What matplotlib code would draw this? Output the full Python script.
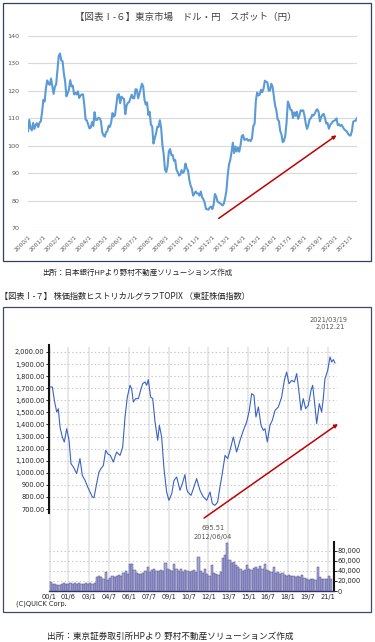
import matplotlib
matplotlib.use('Agg')
import matplotlib.pyplot as plt
from matplotlib.patches import Rectangle

plt.rcParams['font.family'] = ['Noto Sans CJK JP', 'DejaVu Sans']

# ---------------- data: USD/JPY monthly (2000/1 - 2021/6) ----------------
usdjpy = [
    105.3, 109.4, 106.3, 105.6, 108.3, 106.1, 107.6, 108.2, 106.8, 108.4, 108.9, 112.2,  # 2000
    116.7, 116.1, 121.0, 123.8, 122.6, 122.2, 124.5, 121.6, 118.9, 121.5, 122.4, 127.6,  # 2001
    132.7, 133.6, 131.1, 130.8, 126.4, 123.4, 118.0, 119.1, 120.5, 123.9, 121.6, 121.9,  # 2002
    118.7, 119.3, 118.7, 119.8, 117.4, 118.3, 118.7, 118.7, 114.8, 109.5, 109.2, 107.7,  # 2003
    106.3, 106.6, 108.6, 107.2, 112.2, 109.4, 109.4, 110.2, 110.0, 108.9, 104.9, 103.8,  # 2004
    103.3, 104.9, 105.3, 107.3, 106.9, 108.6, 111.9, 110.6, 111.2, 114.9, 118.5, 118.8,  # 2005
    115.5, 117.9, 117.3, 117.1, 111.5, 114.6, 115.6, 115.9, 117.3, 118.6, 117.3, 117.3,  # 2006
    120.6, 120.5, 117.3, 118.9, 120.8, 122.6, 121.6, 116.7, 115.0, 115.8, 111.2, 112.4,  # 2007
    107.6, 107.1, 100.8, 102.7, 104.4, 106.9, 106.9, 109.3, 106.5, 100.3, 96.9, 91.3,    # 2008
    90.4, 92.5, 97.9, 98.8, 96.6, 96.6, 94.5, 94.8, 91.2, 90.3, 89.1, 89.5,              # 2009
    91.1, 90.1, 90.7, 93.5, 91.8, 90.9, 87.6, 85.5, 84.3, 81.8, 82.6, 83.3,              # 2010
    82.6, 82.6, 81.8, 83.3, 81.2, 80.5, 79.3, 77.0, 76.8, 76.7, 77.5, 77.8,              # 2011
    76.9, 78.5, 82.4, 81.5, 79.7, 79.3, 79.0, 78.7, 78.2, 78.9, 80.9, 83.6,              # 2012
    89.2, 93.2, 94.8, 97.7, 101.1, 97.3, 99.7, 97.9, 99.3, 97.8, 100.1, 103.5,           # 2013
    103.9, 102.1, 102.3, 102.5, 101.8, 102.1, 101.7, 102.9, 107.2, 108.0, 116.4, 119.4,  # 2014
    118.3, 118.6, 120.4, 119.5, 120.8, 123.7, 123.3, 123.1, 120.1, 120.1, 122.6, 121.6,  # 2015
    118.2, 114.7, 112.9, 109.6, 109.0, 105.4, 104.1, 101.3, 101.8, 103.8, 108.6, 116.1,  # 2016
    114.9, 113.1, 113.0, 110.1, 112.2, 110.9, 112.4, 109.8, 111.0, 112.9, 112.8, 112.9,  # 2017
    110.9, 108.0, 106.1, 107.6, 109.7, 110.0, 111.3, 111.0, 111.7, 112.8, 113.3, 112.3,  # 2018
    108.9, 110.4, 111.3, 111.6, 110.0, 108.1, 108.3, 106.2, 107.5, 108.1, 108.8, 109.1,  # 2019
    109.3, 110.0, 107.5, 107.8, 107.2, 107.6, 106.8, 106.0, 105.6, 105.2, 104.4, 103.8,  # 2020
    103.7, 105.3, 108.7, 109.1, 109.1, 110.1,                                            # 2021
]
yen_xlabels = [f"{y}/1" for y in range(2000, 2022)]
yen_yticks = [70, 80, 90, 100, 110, 120, 130, 140]
yen_trend_start = (149, 73.5)   # (months since 2000/1, yen)
yen_trend_end = (241, 103.8)

# ---------------- data: TOPIX (months since 2000/1, index value) ----------------
topix_month = [0.45, 2.6, 4.4, 6.5, 8.0, 9.5, 11.6, 13.4, 15.6, 17.7, 19.5, 21.6, 24.6,
               27.6, 29.7, 32.2, 34.6, 36.7, 38.8, 40.3, 42.7, 44.8, 46.6, 48.8, 50.9,
               52.7, 55.1, 57.8, 60.8, 63.9, 66.3, 68.4, 70.5, 72.9, 74.4, 75.9, 78.1,
               80.5, 82.6, 84.4, 86.5, 88.0, 89.5, 91.6, 93.5, 95.6, 98.0, 99.5, 101.6,
               103.7, 106.1, 108.2, 110.7, 112.8, 115.2, 118.2, 120.3, 122.7, 124.2,
               125.2, 128.2, 130.3, 133.3, 136.3, 139.3, 142.4, 145.4, 147.5, 149.9,
               152.3, 154.4, 156.5, 159.0, 161.4, 163.5, 166.5, 169.5, 172.6, 175.6,
               178.6, 181.0, 183.1, 185.2, 187.0, 189.2, 191.6, 193.7, 195.2, 197.3,
               199.7, 201.8, 204.3, 207.3, 210.3, 212.7, 214.8, 216.9, 219.4, 221.8,
               223.9, 226.0, 227.8, 229.9, 232.0, 234.4, 236.9, 238.4, 240.5, 242.0,
               244.4, 246.5, 248.0, 249.5, 252.0, 254.1, 255.6, 257.1, 258.6]
topix_value = [1710, 1710, 1600, 1503, 1530, 1379, 1296, 1255, 1365, 1269, 1075, 1048, 993,
               1117, 979, 937, 882, 841, 800, 794, 910, 1006, 1034, 1061, 1186,
               1158, 1144, 1089, 1172, 1144, 1213, 1462, 1627, 1724, 1696, 1586, 1614,
               1614, 1683, 1738, 1752, 1724, 1771, 1627, 1614, 1420, 1269, 1393, 1296,
               1034, 841, 772, 827, 937, 965, 855, 910, 985, 868,
               841, 813, 868, 951, 855, 800, 772, 841, 744, 730,
               758, 882, 993, 1144, 1117, 1186, 1296, 1172, 1269, 1351,
               1420, 1517, 1655, 1641, 1462, 1545, 1393, 1351, 1365, 1255,
               1393, 1434, 1517, 1545, 1627, 1765, 1834, 1738, 1765, 1752,
               1821, 1669, 1517, 1614, 1531, 1558, 1683, 1724, 1545, 1407,
               1572, 1503, 1614, 1779, 1848, 1959, 1917, 1937, 1909]
topix_yticks = [700, 800, 900, 1000, 1100, 1200, 1300, 1400, 1500, 1600, 1700, 1800, 1900, 2000]
topix_xlabels = ["00/1", "01/6", "03/1", "04/7", "06/1", "07/7", "09/1", "10/7",
                 "12/1", "13/7", "15/1", "16/7", "18/1", "19/7", "21/1"]
topix_tick_month = [(int(s.split('/')[0])) * 12 + int(s.split('/')[1]) - 1 for s in topix_xlabels]
topix_trend_start = (140, 625)
topix_trend_end = (261.3, 1404)

# volume (thousands), bimonthly bars from 2000/1
volume_k = [18, 15, 14, 13, 12, 15, 17, 14,
            15, 16, 14, 17, 15, 16, 14, 15, 16, 15,
            16, 15, 17,
            28, 30, 29,
            24, 38,
            22, 26, 30, 28, 31, 33, 30, 36, 40, 34,
            55, 54,
            42, 37, 35, 34, 37, 40,
            48, 38, 42, 45, 41, 40, 43, 40, 57, 44, 42, 40, 55, 44, 40, 45, 38, 42, 40, 38,
            40, 42, 38, 68, 40, 36, 44, 34,
            30, 52, 36, 34, 33, 38,
            66, 72, 97, 62, 56, 58, 52,
            48, 45, 40, 42, 52, 45, 43, 46, 48, 45,
            50, 44, 54, 42, 40, 38, 48, 36, 38, 34, 36, 33,
            31, 32, 30, 31, 29, 30, 28, 32, 26,
            24, 23, 24, 25, 23, 48, 28, 25, 24, 25, 30, 24]
volume_month = [2 * i for i in range(len(volume_k))]
volume_yticks = [0, 20, 40, 60, 80]

# ---------------- layout helpers ----------------
W, H = 375, 642
fig = plt.figure(figsize=(W / 100, H / 100), dpi=100)
fig.patch.set_facecolor('white')


def box(l, t, r, b):
    return [l / W, 1 - b / H, (r - l) / W, (b - t) / H]


def ftext(x, y, s, **kw):
    fig.text(x / W, 1 - y / H, s, **kw)


def frame(l, t, r, b, color):
    fig.patches.append(Rectangle((l / W, 1 - b / H), (r - l) / W, (b - t) / H,
                                 transform=fig.transFigure, fill=False,
                                 ec=color, lw=0.9, zorder=10))


# ================= Chart I-6 : USD/JPY =================
frame(3, 3, 371, 261, '#2F3F66')
ftext(186, 17, "【図表Ⅰ-６】東京市場　ドル・円　スポット（円）", ha='center', va='center',
      fontsize=6.8, color='#404040')

ax1 = fig.add_axes(box(28, 36, 357, 228))
n = len(usdjpy)
ax1.plot(range(n), usdjpy, color='#5B9BD5', lw=1.5, solid_joinstyle='round', zorder=3)
ax1.set_xlim(0, n - 1)
ax1.set_ylim(70, 140)
ax1.set_yticks(yen_yticks)
ax1.set_yticklabels([str(v) for v in yen_yticks], family='DejaVu Sans')
ax1.set_xticks(range(0, n, 12))
ax1.set_xticklabels(yen_xlabels, rotation=45, ha='right', va='top',
                    rotation_mode='anchor', family='DejaVu Sans')
ax1.tick_params(axis='y', length=0, labelsize=4.6, labelcolor='#595959', pad=6)
ax1.tick_params(axis='x', length=0, labelsize=4.3, labelcolor='#595959', pad=4)
ax1.grid(axis='y', color='#D9D9D9', lw=0.8)
ax1.set_axisbelow(True)
for s in ax1.spines.values():
    s.set_visible(False)
ax1.annotate('', xy=yen_trend_end, xytext=yen_trend_start,
             arrowprops=dict(arrowstyle='-|>', color='#C00000', lw=1.1,
                             mutation_scale=5, shrinkA=0, shrinkB=0),
             annotation_clip=False)

ftext(42, 273, "出所：日本銀行HPより野村不動産ソリューションズ作成", ha='left', va='center',
      fontsize=5.4, color='#222222')

# ================= Chart I-7 : TOPIX =================
ftext(0, 296, "【図表Ⅰ-７】 株価指数ヒストリカルグラフTOPIX （東証株価指数）", ha='left',
      va='center', fontsize=5.9, color='#222222')
frame(3, 307, 371, 612, '#3B4A6B')

X0, PX = 49.5, 1.104  # pixel of month 0, pixels per month


def xlim_for(l, r):
    return ((l - X0) / PX, (r - X0) / PX)


# background vertical grid
axbg = fig.add_axes(box(48.5, 347, 337, 591))
axbg.set_xlim(*xlim_for(48.5, 337))
for m in topix_tick_month:
    axbg.axvline(m, color='#E6E6E6', lw=1.3)
axbg.axis('off')

# price
ax2 = fig.add_axes(box(48.5, 345, 337, 513))
ax2.patch.set_alpha(0)
ax2.set_xlim(*xlim_for(48.5, 337))
ax2.set_ylim(700 - 4 / 0.121, 2000 + 7 / 0.121)
ax2.plot(topix_month, topix_value, color='#3A62C4', lw=0.8, zorder=3)
ax2.set_yticks(topix_yticks)
ax2.set_yticklabels([f"{v:,.2f}" for v in topix_yticks], family='DejaVu Sans')
ax2.tick_params(axis='y', length=2, width=0.6, labelsize=4.8, labelcolor='#222222', pad=0.8)
ax2.set_xticks([])
ax2.grid(axis='y', color='#C4C4C4', lw=0.8, ls=(0, (1.2, 2.2)))
for k in ['top', 'right', 'bottom']:
    ax2.spines[k].set_visible(False)
ax2.spines['left'].set_linewidth(1.5)
ax2.spines['left'].set_color('#111111')
ax2.annotate('', xy=topix_trend_end, xytext=topix_trend_start,
             arrowprops=dict(arrowstyle='-|>', color='#C00000', lw=1.1,
                             mutation_scale=5, shrinkA=0, shrinkB=0),
             annotation_clip=False)

# volume
ax3 = fig.add_axes(box(48.5, 542, 334, 591))
ax3.patch.set_alpha(0)
ax3.set_xlim(*xlim_for(48.5, 334))
ax3.set_ylim(0, 98)
ax3.bar(volume_month, volume_k, width=2, align='edge', color='#A7A7D2',
        edgecolor='#4A4A92', lw=0.35, zorder=3)
ax3.yaxis.tick_right()
ax3.set_yticks(volume_yticks)
ax3.set_yticklabels([f"{v * 1000:,}" for v in volume_yticks], family='DejaVu Sans')
ax3.tick_params(axis='y', length=2, width=0.6, labelsize=4.8, labelcolor='#222222', pad=0.8)
ax3.set_xticks(topix_tick_month)
ax3.set_xticklabels(topix_xlabels, family='DejaVu Sans')
ax3.tick_params(axis='x', length=0, labelsize=4.8, labelcolor='#222222', pad=2.5)
ax3.grid(axis='y', color='#C4C4C4', lw=0.8, ls=(0, (1.2, 2.2)))
ax3.set_axisbelow(True)
ax3.spines['top'].set_visible(False)
ax3.spines['left'].set_visible(False)
ax3.spines['right'].set_linewidth(1.5)
ax3.spines['right'].set_color('#111111')
ax3.spines['bottom'].set_color('#33336A')
ax3.spines['bottom'].set_linewidth(1.0)

# annotations
ftext(329, 320, "2021/03/19", ha='center', va='center', fontsize=4.8,
      color='#555555', family='DejaVu Sans')
ftext(330, 326.5, "2,012.21", ha='center', va='center', fontsize=4.8,
      color='#555555', family='DejaVu Sans')
ftext(213, 528.5, "695.51", ha='center', va='center', fontsize=4.8,
      color='#555555', family='DejaVu Sans')
ftext(213, 537, "2012/06/04", ha='center', va='center', fontsize=4.8,
      color='#555555', family='DejaVu Sans')
ftext(16, 604, "(C)QUICK Corp.", ha='left', va='center', fontsize=4.8,
      color='#222222', family='DejaVu Sans')

ftext(47, 636, "出所：東京証券取引所HPより 野村不動産ソリューションズ作成", ha='left',
      va='center', fontsize=6.2, color='#222222')

fig.savefig('out.png', dpi=100, facecolor='white')
